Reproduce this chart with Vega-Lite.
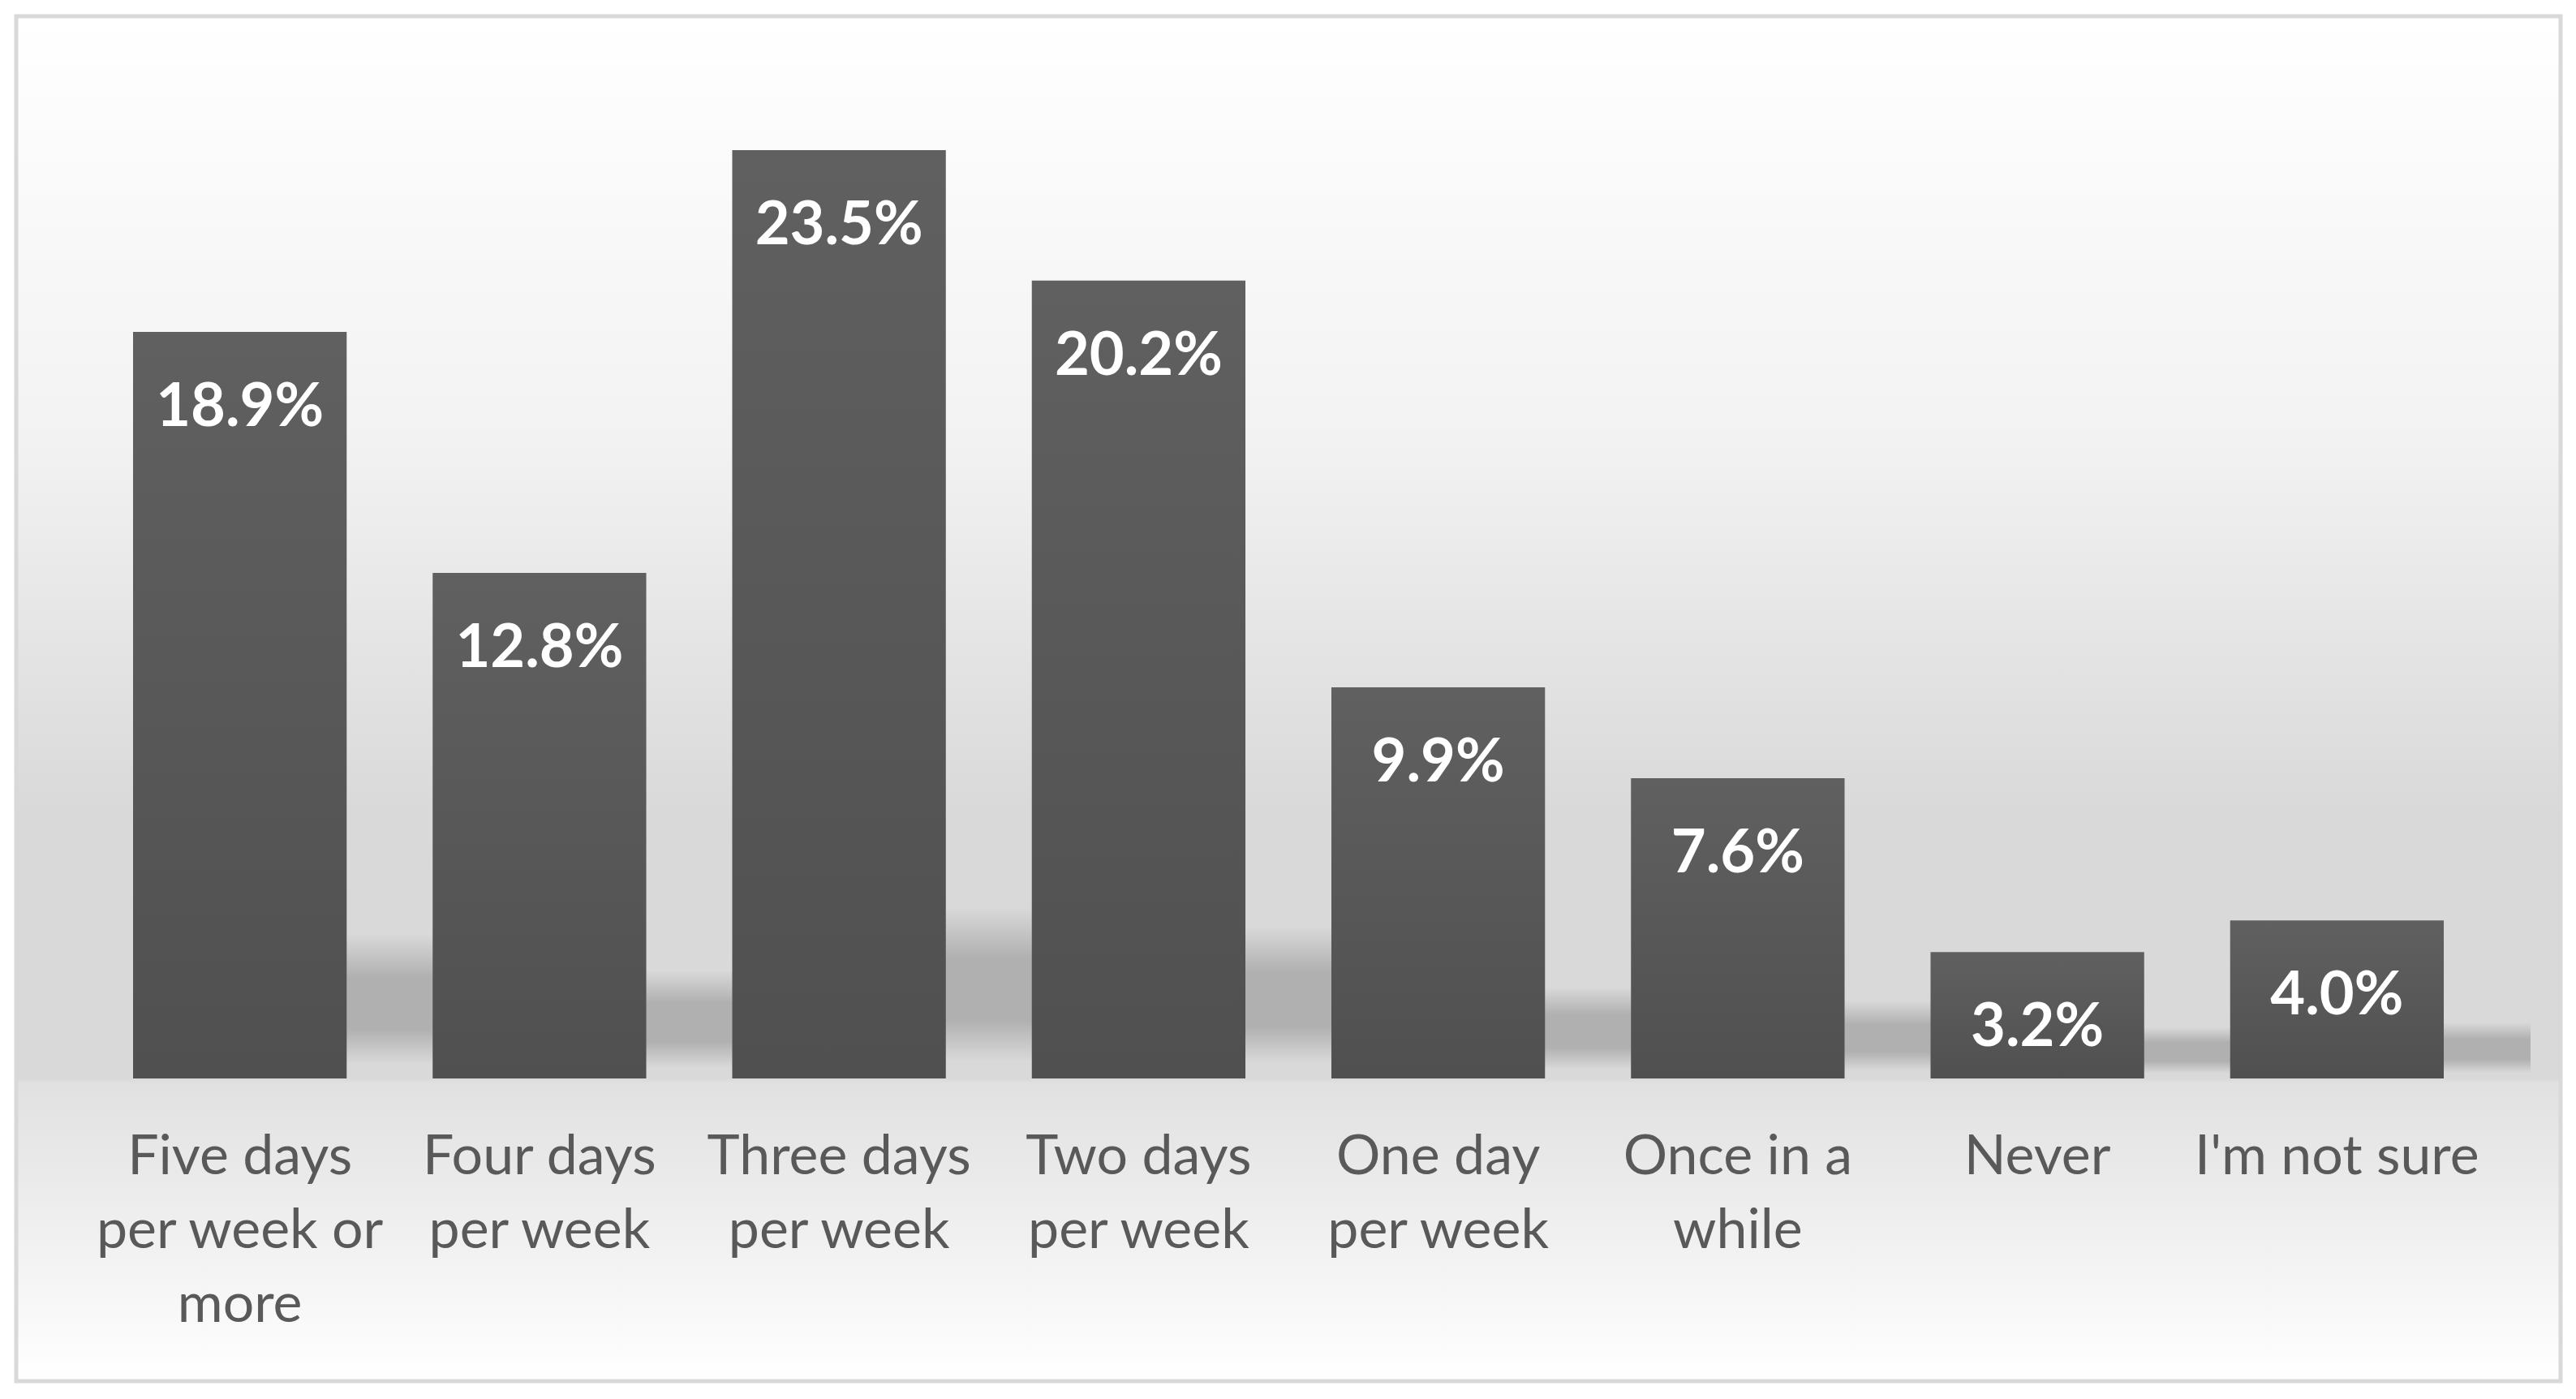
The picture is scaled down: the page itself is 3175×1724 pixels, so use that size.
{
  "$schema": "https://vega.github.io/schema/vega-lite/v6.json",
  "autosize": "none",
  "width": 3136,
  "height": 1682,
  "padding": {"left": 20, "top": 20, "right": 19, "bottom": 22},
  "background": "#ffffff",
  "config": {
    "view": {
      "fill": {
        "gradient": "linear",
        "x1": 0, "y1": 0, "x2": 0, "y2": 1,
        "stops": [
          {"offset": 0, "color": "#ffffff"},
          {"offset": 0.313, "color": "#f2f2f2"},
          {"offset": 0.464, "color": "#e4e4e4"},
          {"offset": 0.583, "color": "#d9d9d9"},
          {"offset": 0.778, "color": "#d9d9d9"},
          {"offset": 0.782, "color": "#e1e1e1"},
          {"offset": 0.886, "color": "#efefef"},
          {"offset": 1, "color": "#ffffff"}
        ]
      },
      "stroke": "#d9d9d9",
      "strokeWidth": 5
    }
  },
  "data": {
    "values": [
      {"category": "Five days per week or more", "label": "Five days\nper week or\nmore", "value": 0.189},
      {"category": "Four days per week", "label": "Four days\nper week", "value": 0.128},
      {"category": "Three days per week", "label": "Three days\nper week", "value": 0.235},
      {"category": "Two days per week", "label": "Two days\nper week", "value": 0.202},
      {"category": "One day per week", "label": "One day\nper week", "value": 0.099},
      {"category": "Once in a while", "label": "Once in a\nwhile", "value": 0.076},
      {"category": "Never", "label": "Never", "value": 0.032},
      {"category": "I'm not sure", "label": "I'm not sure", "value": 0.04}
    ]
  },
  "resolve": {"scale": {"y": "independent"}},
  "layer": [
    {
      "mark": {
        "type": "bar",
        "xOffset": 107,
        "color": {
          "gradient": "linear",
          "x1": 0, "y1": 0, "x2": 0, "y2": 1,
          "stops": [
            {"offset": 0, "color": "rgba(0,0,0,0)"},
            {"offset": 0.3, "color": "rgba(0,0,0,0.19)"},
            {"offset": 0.66, "color": "rgba(0,0,0,0.19)"},
            {"offset": 0.9, "color": "rgba(0,0,0,0)"},
            {"offset": 1, "color": "rgba(0,0,0,0)"}
          ]
        }
      },
      "encoding": {
        "x": {"field": "category", "type": "nominal", "sort": null, "axis": null,
              "scale": {"paddingInner": 0.287, "paddingOuter": 0.39}},
        "y": {"field": "value", "type": "quantitative", "axis": null,
              "scale": {"domain": [-0.5656, 1.7379], "zero": false, "nice": false}},
        "y2": {"datum": -0.0548}
      }
    },
    {
      "mark": {
        "type": "bar",
        "color": {
          "gradient": "linear",
          "x1": 0, "y1": 0, "x2": 0, "y2": 1,
          "stops": [
            {"offset": 0, "color": "#606060"},
            {"offset": 1, "color": "#505050"}
          ]
        }
      },
      "encoding": {
        "x": {"field": "category", "type": "nominal", "sort": null, "axis": null,
              "scale": {"paddingInner": 0.287, "paddingOuter": 0.39}},
        "y": {"field": "value", "type": "quantitative", "axis": null,
              "scale": {"domain": [-0.07662, 0.2689], "zero": false, "nice": false}}
      }
    },
    {
      "mark": {
        "type": "text",
        "font": "Lato",
        "fontWeight": "bold",
        "fontSize": 74,
        "color": "#ffffff",
        "align": "center",
        "baseline": "alphabetic",
        "dy": 116
      },
      "encoding": {
        "x": {"field": "category", "type": "nominal", "sort": null, "axis": null,
              "scale": {"paddingInner": 0.287, "paddingOuter": 0.39}},
        "y": {"field": "value", "type": "quantitative", "axis": null,
              "scale": {"domain": [-0.07662, 0.2689], "zero": false, "nice": false}},
        "text": {"field": "value", "type": "quantitative", "format": ".1%"}
      }
    },
    {
      "mark": {
        "type": "text",
        "font": "Lato",
        "fontSize": 68,
        "color": "#595959",
        "align": "center",
        "baseline": "alphabetic",
        "lineBreak": "\n",
        "lineHeight": 91,
        "dy": 118
      },
      "encoding": {
        "x": {"field": "category", "type": "nominal", "sort": null, "axis": null,
              "scale": {"paddingInner": 0.287, "paddingOuter": 0.39}},
        "y": {"datum": 0, "type": "quantitative", "axis": null,
              "scale": {"domain": [-0.07662, 0.2689], "zero": false, "nice": false}},
        "text": {"field": "label"}
      }
    }
  ]
}
